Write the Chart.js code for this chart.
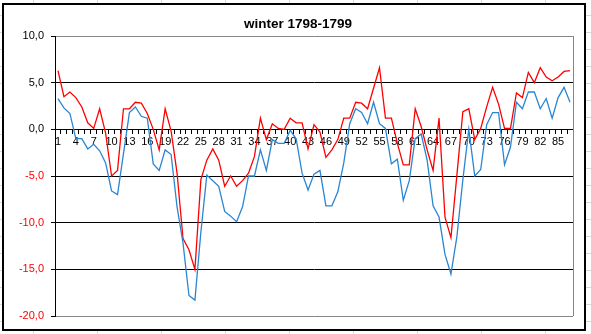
<!DOCTYPE html>
<html>
<head>
<meta charset="utf-8">
<script src="https://cdn.jsdelivr.net/npm/chart.js@4/dist/chart.umd.min.js"></script>
<style>
  html, body { margin: 0; padding: 0; }
  body {
    width: 591px; height: 334px; overflow: hidden; position: relative;
    background-color: #fff;
    background-image:
      repeating-linear-gradient(to right, transparent 0px, transparent 33px, #d9d9d9 33px, #d9d9d9 34px, transparent 34px, transparent 64px),
      repeating-linear-gradient(to bottom, transparent 0px, transparent 15px, #d9d9d9 15px, #d9d9d9 16px, transparent 16px, transparent 17px);
  }
  #frame {
    position: absolute; left: 2px; top: 3px; width: 584px; height: 328px;
    box-sizing: border-box; border: 2px solid #000; background: #fff;
  }
  #chart { position: absolute; left: 0; top: 0; }
</style>
</head>
<body>
<div id="frame"></div>
<canvas id="chart" width="591" height="334"></canvas>
<script>
// Day numbers of the winter, one per observation
const days = Array.from({ length: 87 }, (_, i) => String(i + 1));

// Daily temperatures (°C)
const highTemps = [
  6.3, 3.5, 4.0, 3.4, 2.4, 0.7, 0.1, 2.2, -0.4, -5.0,
  -4.4, 2.2, 2.2, 2.9, 2.8, 1.7, 0.0, -2.2, 2.2, -0.2,
  -4.7, -11.7, -12.9, -15.0, -5.4, -3.3, -2.1, -3.3, -6.1, -5.0,
  -6.1, -5.5, -4.7, -2.9, 1.2, -1.1, 0.6, 0.1, 0.0, 1.2,
  0.7, 0.7, -2.1, 0.5, -0.3, -3.0, -2.2, -1.1, 1.2, 1.2,
  2.9, 2.8, 2.2, 4.4, 6.6, 1.2, 1.2, -1.5, -3.8, -3.8,
  2.2, 0.3, -2.2, -4.4, 1.2, -9.4, -11.6, -4.9, 1.9, 2.2,
  -1.1, 0.1, 2.4, 4.5, 2.7, 0.1, 0.1, 3.9, 3.4, 6.1,
  5.0, 6.6, 5.6, 5.2, 5.6, 6.2, 6.3
];
const lowTemps = [
  3.3, 2.3, 1.7, -1.0, -1.0, -2.1, -1.6, -2.3, -3.6, -6.6,
  -7.0, -2.6, 1.8, 2.4, 1.4, 1.2, -3.7, -4.4, -2.2, -2.7,
  -8.3, -12.2, -17.8, -18.3, -11.0, -4.9, -5.5, -6.1, -8.8, -9.3,
  -9.9, -8.3, -5.0, -5.0, -2.2, -4.4, -1.1, -1.5, -1.5, -0.1,
  -1.0, -4.7, -6.5, -4.8, -4.4, -8.2, -8.2, -6.7, -3.6, 0.6,
  2.2, 1.8, 0.6, 2.9, 0.6, 0.1, -3.7, -3.2, -7.6, -5.5,
  -1.0, -0.5, -3.3, -8.2, -9.4, -13.4, -15.5, -11.5, -5.4, 0.0,
  -5.0, -4.3, 0.5, 1.8, 1.8, -3.8, -1.9, 2.9, 2.2, 4.0,
  4.0, 2.2, 3.3, 1.2, 3.4, 4.5, 2.9
];

// Value axis range and step
const yMin = -20, yMax = 10, yStep = 5;

const FONT = 'Arial, "Liberation Sans", sans-serif';

// Grey right-hand edge of the plot area
const plotFrame = {
  id: 'plotFrame',
  beforeDatasetsDraw(chart) {
    const { ctx, chartArea: a } = chart;
    ctx.save();
    ctx.strokeStyle = '#868686';
    ctx.lineWidth = 1;
    ctx.beginPath();
    const x = Math.round(a.right) + 0.5;
    ctx.moveTo(x, a.top);
    ctx.lineTo(x, a.bottom);
    ctx.stroke();
    ctx.restore();
  }
};

new Chart(document.getElementById('chart'), {
  type: 'line',
  data: {
    labels: days,
    datasets: [
      { label: 'min', data: lowTemps, borderColor: '#2a85d3', borderWidth: 1.3, pointRadius: 0, tension: 0, fill: false },
      { label: 'max', data: highTemps, borderColor: '#ff0000', borderWidth: 1.3, pointRadius: 0, tension: 0, fill: false }
    ]
  },
  plugins: [plotFrame],
  options: {
    responsive: false,
    animation: false,
    devicePixelRatio: 1,
    layout: { padding: { left: 23, right: 18, top: 8, bottom: 18 } },
    plugins: {
      legend: { display: false },
      tooltip: { enabled: false },
      title: {
        display: true,
        text: 'winter 1798-1799',
        color: '#000',
        font: { family: FONT, size: 13.5, weight: 'bold' },
        padding: { top: 8, bottom: 3.8 }
      }
    },
    scales: {
      x: {
        type: 'category',
        offset: true,
        position: { y: 0 },
        grid: { offset: true, drawOnChartArea: false, drawTicks: true, tickLength: 4, color: '#000', lineWidth: 1 },
        border: { color: '#000', width: 1 },
        ticks: {
          autoSkip: false, maxRotation: 0, minRotation: 0, padding: 2,
          color: '#000', font: { family: FONT, size: 11 },
          callback: (v, i) => (i % 3 === 0 ? days[i] : '')
        },
        afterFit: s => { s.height = 0; }
      },
      y: {
        min: yMin, max: yMax,
        ticks: {
          stepSize: yStep, padding: 7,
          font: { family: FONT, size: 11 },
          color: c => (c.tick && c.tick.value < 0 ? '#ff0000' : '#000'),
          callback: v => v.toFixed(1).replace('.', ',')
        },
        grid: {
          color: c => (c.tick && (c.tick.value === yMax || c.tick.value === yMin) ? '#868686' : '#000'),
          tickColor: '#000', tickLength: 4, lineWidth: 1
        },
        border: { color: '#000', width: 1 },
        afterFit: s => {
          s.width = 32;
          // let the longer value labels run past the narrow axis box
          s._computeLabelArea = () => undefined;
        }
      }
    }
  }
});
</script>
</body>
</html>
